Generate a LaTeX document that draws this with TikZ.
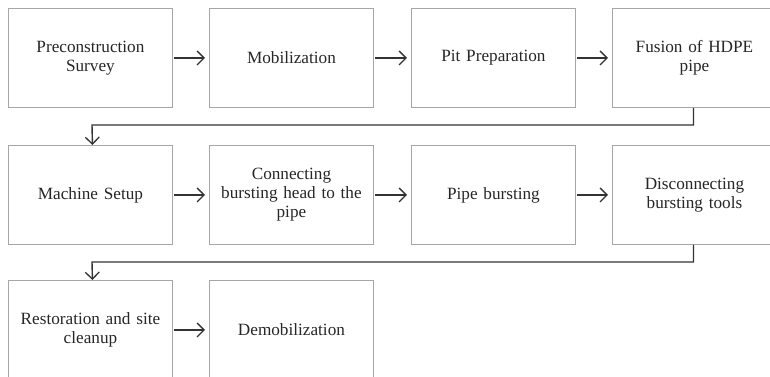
\documentclass[tikz,border=0pt]{standalone}
\usepackage{fontspec}
\setmainfont[WordSpace=0.8]{Liberation Serif}
\usetikzlibrary{arrows.meta}
\begin{document}
\begin{tikzpicture}[x=1pt,y=-1pt,
  stepbox/.style={draw=black!35,line width=0.9pt,minimum width=164pt,minimum height=99pt,
    inner sep=2pt,align=center,text width=160pt,
    font=\fontsize{17.2}{19}\selectfont,anchor=north west,text=black!85},
  flow/.style={draw=black!80,line width=1.4pt,-{Straight Barb[length=7pt,width=14pt,line width=1.3pt]}}]
\useasboundingbox (0,0) rectangle (770,376);
\node[stepbox] (b1) at (8,8) {Preconstruction\\Survey};
\node[stepbox] (b2) at (209,8) {Mobilization};
\node[stepbox] (b3) at (411,8) {Pit Preparation};
\node[stepbox] (b4) at (612,8) {Fusion of HDPE\\pipe};
\node[stepbox] (b5) at (8,145) {Machine Setup};
\node[stepbox] (b6) at (209,145) {Connecting\\bursting head to the\\pipe};
\node[stepbox] (b7) at (411,145) {Pipe bursting};
\node[stepbox] (b8) at (612,145) {Disconnecting\\bursting tools};
\node[stepbox] (b9) at (8,280) {Restoration and site\\cleanup};
\node[stepbox] (b10) at (209,280) {Demobilization};
\foreach \a/\b in {b1/b2,b2/b3,b3/b4,b5/b6,b6/b7,b7/b8,b9/b10}
  \draw[flow,shorten <=1pt,shorten >=4pt] (\a.east) -- (\b.west);
\draw[flow] ([xshift=-1pt]b4.south) |- (92,125) -- ([xshift=2pt]b5.north);
\draw[flow] ([xshift=-1pt]b8.south) |- (92,262) -- ([xshift=2pt]b9.north);
\end{tikzpicture}
\end{document}
